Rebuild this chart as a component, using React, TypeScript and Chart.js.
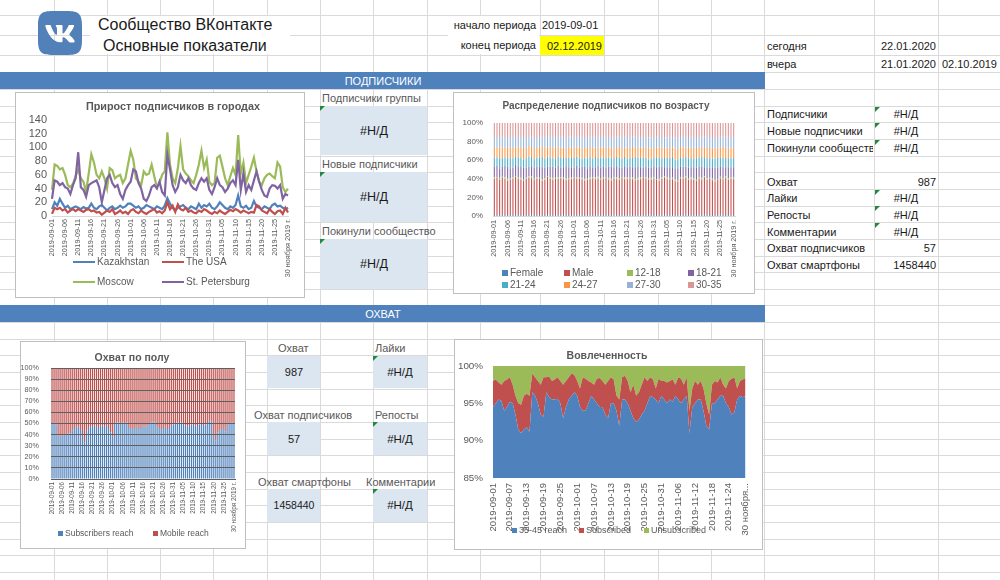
import React, { useEffect, useRef } from 'react';
import { Chart, registerables } from 'chart.js';

Chart.register(...registerables);

const FONT = "'Liberation Sans', Arial, sans-serif";
Chart.defaults.font.family = FONT;
Chart.defaults.color = '#595959';

// ---------- categories ----------
const DATES: string[] = [
  '2019-09-01','2019-09-02','2019-09-03','2019-09-04','2019-09-05','2019-09-06','2019-09-07','2019-09-08','2019-09-09','2019-09-10',
  '2019-09-11','2019-09-12','2019-09-13','2019-09-14','2019-09-15','2019-09-16','2019-09-17','2019-09-18','2019-09-19','2019-09-20',
  '2019-09-21','2019-09-22','2019-09-23','2019-09-24','2019-09-25','2019-09-26','2019-09-27','2019-09-28','2019-09-29','2019-09-30',
  '2019-10-01','2019-10-02','2019-10-03','2019-10-04','2019-10-05','2019-10-06','2019-10-07','2019-10-08','2019-10-09','2019-10-10',
  '2019-10-11','2019-10-12','2019-10-13','2019-10-14','2019-10-15','2019-10-16','2019-10-17','2019-10-18','2019-10-19','2019-10-20',
  '2019-10-21','2019-10-22','2019-10-23','2019-10-24','2019-10-25','2019-10-26','2019-10-27','2019-10-28','2019-10-29','2019-10-30',
  '2019-10-31','2019-11-01','2019-11-02','2019-11-03','2019-11-04','2019-11-05','2019-11-06','2019-11-07','2019-11-08','2019-11-09',
  '2019-11-10','2019-11-11','2019-11-12','2019-11-13','2019-11-14','2019-11-15','2019-11-16','2019-11-17','2019-11-18','2019-11-19',
  '2019-11-20','2019-11-21','2019-11-22','2019-11-23','2019-11-24','2019-11-25','2019-11-26','2019-11-27','2019-11-28','2019-11-29',
  '30 ноября 2019 г.',
];

// ---------- Прирост подписчиков в городах ----------
const KAZAKHSTAN = [
  10,20,15,25,18,12,15,10,12,14,
  12,10,13,11,12,18,12,10,14,16,
  12,8,12,14,10,12,15,12,14,18,
  18,15,12,14,10,12,16,14,12,10,
  14,12,10,15,26,18,12,8,12,14,
  16,12,10,14,12,10,18,12,16,14,
  18,12,10,14,20,16,12,10,14,12,
  16,30,14,12,15,10,12,22,14,12,
  10,14,12,10,16,18,14,15,12,10,
  12,
];
const THE_USA = [
  3,12,10,12,8,10,5,8,10,7,
  10,8,6,9,10,7,8,5,6,2,
  5,8,6,10,3,5,8,4,6,3,
  8,10,6,4,8,5,3,6,8,10,
  5,7,4,8,20,10,15,6,17,10,
  8,12,6,8,5,4,8,6,10,8,
  5,3,6,4,8,5,3,6,9,7,
  10,8,5,8,6,4,6,5,16,14,
  8,6,4,10,6,3,7,8,3,12,
  5,
];
const MOSCOW = [
  38,75,73,68,70,60,45,42,47,58,
  68,55,50,35,62,90,78,60,55,65,
  55,40,70,67,55,58,60,48,55,75,
  95,82,55,50,45,65,60,62,75,58,
  42,48,60,65,122,75,55,48,70,102,
  68,62,58,52,48,60,75,95,70,82,
  50,45,48,85,88,72,55,45,58,70,
  60,118,62,78,48,60,72,85,65,50,
  45,55,60,62,58,55,78,72,42,35,
  40,
];
const ST_PETERSBURG = [
  25,52,50,45,48,42,40,32,45,55,
  93,42,38,28,45,48,50,52,42,20,
  38,55,60,48,42,45,32,25,38,45,
  50,68,65,48,40,25,22,30,42,45,
  40,50,35,30,90,68,45,35,42,60,
  52,48,55,45,40,38,48,55,50,55,
  38,32,42,55,45,42,35,40,48,52,
  45,82,38,62,35,45,38,52,65,50,
  38,30,28,40,45,44,40,45,25,32,
  30,
];
const CITY_TICKS = [0, 20, 40, 60, 80, 100, 120, 140];

// ---------- Распределение подписчиков по возрасту ----------
const AGE_LABELS = ['Female', 'Male', '12-18', '18-21', '21-24', '24-27', '27-30', '30-35'];
const AGE_COLORS = ['#4f81bd', '#c0504d', '#9bbb59', '#8064a2', '#4bacc6', '#f79646', '#95b3d7', '#d99694'];
const FEMALE = [
  1,1,1,2,1,1,1,1,2,1, 1,1,1,1,2,1,1,1,1,1, 2,1,1,1,1,1,2,1,1,1, 1,1,2,1,1,1,1,1,1,2,
  1,1,1,1,1,2,1,1,1,1, 1,2,1,1,1,1,1,1,2,1, 1,1,1,1,2,1,1,1,1,1, 1,1,2,1,1,1,1,1,1,2,
  1,1,1,1,1,2,1,1,1,1, 1,
];
const MALE = [
  39,40,38,40,39,37,38,39,40,39, 38,37,39,40,39,38,39,39,37,38, 40,39,38,39,39,40,38,37,39,39,
  40,39,38,39,37,38,39,40,39,39, 38,39,40,38,37,39,39,38,40,39, 38,39,39,37,38,39,40,39,38,39,
  39,38,37,39,40,39,39,38,37,36, 39,39,40,38,39,38,37,39,39,40, 38,39,37,36,38,39,39,40,38,39,
  39,
];
const AGE_12_18 = [
  2,1,2,1,2,2,1,2,1,2, 2,1,1,2,2,1,2,1,2,2, 1,2,2,1,2,1,2,2,1,2, 1,2,1,2,2,1,2,1,2,2,
  1,2,1,2,2,1,2,2,1,2, 2,1,2,1,2,2,1,2,1,2, 2,1,2,2,1,2,1,2,2,1, 2,1,2,1,2,2,1,2,2,1,
  2,1,2,2,1,2,1,2,2,1, 2,
];
const AGE_18_21 = [
  11,12,10,11,12,13,11,10,12,11, 12,13,11,10,11,12,11,12,13,11, 10,11,12,11,12,10,11,13,12,11,
  10,12,11,12,13,11,12,10,11,12, 12,11,10,12,13,11,12,11,10,12, 11,12,11,13,12,11,10,11,12,11,
  11,12,13,11,10,11,12,11,12,13, 11,12,10,12,11,12,13,11,12,10, 12,11,12,13,12,11,12,10,12,11,
  11,
];
const AGE_21_24 = [
  10,9,11,10,9,10,11,10,9,10, 10,9,10,11,10,9,10,10,11,10, 11,10,9,10,10,11,10,9,10,10,
  11,10,10,9,10,11,10,10,11,9, 10,10,11,10,9,10,10,11,10,10, 9,10,10,11,10,10,11,10,9,10,
  10,11,10,9,10,10,10,11,10,10, 10,9,11,10,10,9,10,10,11,10, 10,10,9,10,11,10,10,10,9,10,
  10,
];
const AGE_24_27 = [
  11,10,12,11,10,11,12,11,10,11, 11,12,10,11,12,11,10,11,11,12, 10,11,11,12,10,11,11,10,12,11,
  11,10,12,11,10,11,11,12,10,11, 12,11,10,11,11,10,11,12,11,10, 11,11,12,10,11,11,10,11,12,11,
  10,11,11,12,10,11,11,10,12,11, 11,12,10,11,11,12,11,10,11,11, 12,11,11,10,11,11,12,11,11,10,
  11,
];
const AGE_27_30 = [
  11,12,11,12,11,10,11,12,11,12, 11,12,12,11,10,12,11,12,11,12, 11,12,12,11,11,12,11,12,11,12,
  11,12,11,12,12,11,11,12,11,12, 11,12,12,11,11,12,11,11,12,12, 11,12,11,12,11,11,12,11,12,12,
  11,12,11,11,12,11,12,11,12,12, 12,11,12,11,12,11,11,12,11,12, 12,12,11,12,11,12,11,12,12,11,
  12,
];
const AGE_30_35 = [
  15,15,15,15,16,16,15,15,15,14, 15,15,16,14,15,16,16,14,15,15, 15,14,15,15,15,15,16,15,15,15,
  15,14,15,16,15,16,15,15,16,15, 15,14,15,15,16,16,15,15,15,15, 16,15,15,14,15,16,15,15,16,16,
  16,15,15,15,16,16,15,15,16,16, 14,15,15,16,15,16,16,15,15,15, 14,15,16,16,16,15,15,15,16,16,
  15,
];

// ---------- Охват по полу ----------
const SUBSCRIBERS_REACH = [
  50,50,49,39,38,39,40,40,41,41, 44,46,47,47,45,40,33,44,46,47,
  47,48,47,46,48,48,47,48,46,42, 38,50,51,51,50,51,50,51,46,46,
  45,46,47,45,46,48,47,48,50,51, 52,51,47,46,45,46,47,45,46,48,
  49,50,51,50,51,50,48,47,48,49, 50,48,47,49,50,48,49,50,53,52,
  40,35,42,44,45,46,43,50,50,51, 50,
];
const MOBILE_REACH = [
  50,50,51,61,62,61,60,60,59,59, 56,54,53,53,55,60,67,56,54,53,
  53,52,53,54,52,52,53,52,54,58, 62,50,49,49,50,49,50,49,54,54,
  55,54,53,55,54,52,53,52,50,49, 48,49,53,54,55,54,53,55,54,52,
  51,50,49,50,49,50,52,53,52,51, 50,52,53,51,50,52,51,50,47,48,
  60,65,58,56,55,54,57,50,50,49, 50,
];

// ---------- Вовлеченность ----------
const REACH_35_45 = [
  94.5,95,95.5,95.3,94,94.5,95.2,95,93.5,91.5,
  91,91.5,91.8,91.2,96.5,96,95,93.5,93.2,96.5,
  95.8,95.5,95.5,95.6,95,93,94.5,95.5,96,96.5,
  96,94.5,94,94,95,96,95.5,95,94.5,94.5,
  93.5,93,95,95,94,92,95.5,95.5,95,94,
  93,92.5,92.8,93.5,94,95,96,95.8,95.5,95,
  96,95.5,95,95.5,95.2,96,95.5,95,95.5,96,
  91,94.5,95,95.5,95.5,94,92,91.5,95,95,
  95.5,96,96,95,94.5,93.5,93.8,95.5,96,95.8,
  96,
];
const SUBSCRIBED = [
  3.5,3.2,2.3,2.2,4,3.7,3.3,2.5,2.5,3.5,
  3.8,4.5,4.5,4.8,2.5,2.5,3,4,5.3,2,
  2.8,2.5,2.7,2.9,3,4.5,3.5,3,3,2.3,
  2,2.5,4.5,4.3,3,1.8,2,3.3,3.9,3.5,
  4,5,3.5,3.2,2,3.5,3,3.2,3,2.5,
  4.5,3.5,3.7,4,4.5,3,2.5,2.4,1.5,3.3,
  2,2.5,2.8,2.5,3,1.5,3,3.3,2,2.5,
  3,2.5,3,2,2.5,3,3,2,2.5,3,
  2.3,2.5,1.5,2,3.5,4.8,4.7,1.5,2,2.4,
  2.4,
];
const UNSUBSCRIBED = [
  2,1.8,2.2,2.5,2,1.8,1.5,2.5,4,5,
  5.2,4,3.7,4,1,1.5,2,2.5,1.5,1.5,
  1.4,2,1.8,1.5,2,2.5,2,1.5,1,1.2,
  2,3,1.5,1.7,2,2.2,2.5,1.7,1.6,2,
  2.5,2,1.5,1.8,4,4.5,1.5,1.3,2,3.5,
  2.5,4,3.5,2.5,1.5,2,1.5,1.8,3,1.7,
  2,2,2.2,2,1.8,2.5,1.5,1.7,2.5,1.5,
  6,3,2,2.5,2,3,5,6.5,2.5,2,
  2.2,1.5,2.5,3,2,1.7,1.5,3,2,1.8,
  1.6,
];

// ---------- helpers ----------
function toPercent(series: number[][]): number[][] {
  return series.map((s) =>
    s.map((v, i) => {
      const total = series.reduce((a, t) => a + (t[i] || 0), 0);
      return total ? (v / total) * 100 : 0;
    })
  );
}

const everyN = (n: number, maxLen = 100) =>
  function (this: any, value: any, index: number) {
    if (index % n !== 0) return null;
    const l: string = this.getLabelForValue(value);
    return l.length > maxLen ? l.slice(0, 9) + '...' : l;
  };

const pct = (v: any) => v + '%';

function ChartBox(props: { left: number; top: number; width: number; height: number; make: () => any }) {
  const ref = useRef<HTMLCanvasElement>(null);
  const { left, top, width, height, make } = props;
  useEffect(() => {
    const chart = new Chart(ref.current as HTMLCanvasElement, make());
    return () => chart.destroy();
  }, []);
  return (
    <div
      style={{
        position: 'absolute', left, top, width, height, boxSizing: 'border-box',
        border: '1px solid #bfbfbf', background: '#fff',
      }}
    >
      <canvas
        ref={ref}
        width={width - 2}
        height={height - 2}
        style={{ position: 'absolute', left: 0, top: 0, width: width - 2, height: height - 2 }}
      />
    </div>
  );
}

type TProps = {
  x: number; y: number; children: any; size?: number; align?: 'left' | 'right' | 'center';
  color?: string; bold?: boolean; clip?: number;
};
function T({ x, y, children, size = 11.5, align = 'left', color = '#1a1a1a', bold = false, clip }: TProps) {
  const pos: any =
    align === 'left' ? { left: x } : align === 'right' ? { right: 1000 - x, textAlign: 'right' } : { left: x - 200, width: 400, textAlign: 'center' };
  return (
    <div
      style={{
        position: 'absolute', top: y - 10, height: 20, lineHeight: '20px', fontSize: size,
        whiteSpace: 'nowrap', color, fontWeight: bold ? 'bold' : 'normal',
        ...(clip ? { width: clip, overflow: 'hidden' } : {}), ...pos,
      }}
    >
      {children}
    </div>
  );
}

const Tri = ({ x, y }: { x: number; y: number }) => (
  <div
    style={{
      position: 'absolute', left: x, top: y, width: 0, height: 0,
      borderTop: '5px solid #1f8a3b', borderRight: '5px solid transparent',
    }}
  />
);

const Box = ({ x, y, w, h }: { x: number; y: number; w: number; h: number }) => (
  <div style={{ position: 'absolute', left: x, top: y, width: w, height: h, background: '#dce6f1' }} />
);

const LegLine = ({ x, y, color, text, size = 10 }: { x: number; y: number; color: string; text: string; size?: number }) => (
  <>
    <div style={{ position: 'absolute', left: x, top: y - 1, width: 22, height: 2, background: color }} />
    <T x={x + 24} y={y} size={size} color="#595959">{text}</T>
  </>
);

const LegSq = ({ x, y, color, text, size = 10, sq = 6 }: { x: number; y: number; color: string; text: string; size?: number; sq?: number }) => (
  <>
    <div style={{ position: 'absolute', left: x, top: y - sq / 2, width: sq, height: sq, background: color }} />
    <T x={x + sq + 2} y={y} size={size} color="#595959">{text}</T>
  </>
);

// ---------- chart configs ----------
const cityChart = () => ({
  type: 'line',
  data: {
    labels: DATES,
    datasets: [
      { label: 'Kazakhstan', data: KAZAKHSTAN, borderColor: '#4f81bd', order: 3 },
      { label: 'The USA', data: THE_USA, borderColor: '#c0504d', order: 2 },
      { label: 'Moscow', data: MOSCOW, borderColor: '#9bbb59', order: 1 },
      { label: 'St. Petersburg', data: ST_PETERSBURG, borderColor: '#8064a2', order: 0 },
    ].map((d) => ({ ...d, borderWidth: 2.2, pointRadius: 0, tension: 0, fill: false })),
  },
  options: {
    responsive: false, animation: false,
    layout: { padding: { left: 0, right: 16, top: 27, bottom: 0 } },
    plugins: { legend: { display: false }, tooltip: { enabled: false }, title: { display: false } },
    scales: {
      x: {
        ticks: { autoSkip: false, maxRotation: 90, minRotation: 90, padding: 3, font: { size: 7.3 }, color: '#595959', callback: everyN(5) },
        grid: { display: false, drawTicks: false },
        border: { display: true, color: '#d9d9d9' },
        afterFit: (s: any) => { s.height = 81; },
      },
      y: {
        min: CITY_TICKS[0], max: CITY_TICKS[CITY_TICKS.length - 1],
        ticks: { stepSize: 20, autoSkip: false, padding: 5, font: { size: 11 }, color: '#595959' },
        grid: { display: false, drawTicks: false },
        border: { display: false },
        afterFit: (s: any) => { s.width = 36; },
      },
    },
  },
});

const ageChart = () => {
  const norm = toPercent([FEMALE, MALE, AGE_12_18, AGE_18_21, AGE_21_24, AGE_24_27, AGE_27_30, AGE_30_35]);
  return {
    type: 'bar',
    data: {
      labels: DATES,
      datasets: AGE_LABELS.map((l, i) => ({
        label: l, data: norm[i], backgroundColor: AGE_COLORS[i], barPercentage: 0.4, categoryPercentage: 1, borderWidth: 0,
      })),
    },
    options: {
      responsive: false, animation: false,
      layout: { padding: { left: 0, right: 19, top: 30, bottom: 0 } },
      plugins: { legend: { display: false }, tooltip: { enabled: false } },
      scales: {
        x: {
          stacked: true,
          ticks: { autoSkip: false, maxRotation: 90, minRotation: 90, padding: 4, font: { size: 7.2 }, color: '#595959', callback: everyN(5) },
          grid: { display: false, drawTicks: false },
          border: { display: true, color: '#d9d9d9' },
          afterFit: (s: any) => { s.height = 77; },
        },
        y: {
          stacked: true, min: 0, max: 100,
          ticks: { stepSize: 20, autoSkip: false, padding: 10, font: { size: 8 }, color: '#595959', callback: pct },
          grid: { display: false, drawTicks: false },
          border: { display: false },
          afterFit: (s: any) => { s.width = 39; },
        },
      },
    },
  };
};

const genderChart = () => {
  const norm = toPercent([SUBSCRIBERS_REACH, MOBILE_REACH]);
  return {
    type: 'bar',
    data: {
      labels: DATES,
      datasets: [
        { label: 'Subscribers reach', data: norm[0], backgroundColor: '#4f81bd' },
        { label: 'Mobile reach', data: norm[1], backgroundColor: '#c0504d' },
      ].map((d) => ({ ...d, barPercentage: 0.6, categoryPercentage: 1, borderWidth: 0 })),
    },
    options: {
      responsive: false, animation: false,
      layout: { padding: { left: 0, right: 10, top: 26, bottom: 0 } },
      plugins: { legend: { display: false }, tooltip: { enabled: false } },
      scales: {
        x: {
          stacked: true,
          ticks: { autoSkip: false, maxRotation: 90, minRotation: 90, padding: 3, font: { size: 6.3 }, color: '#595959', callback: everyN(5) },
          grid: { display: false, drawTicks: false },
          border: { display: true, color: '#595959' },
          afterFit: (s: any) => { s.height = 69; },
        },
        y: {
          stacked: true, min: 0, max: 100,
          ticks: { stepSize: 10, autoSkip: false, padding: 12, font: { size: 7.2 }, color: '#595959', callback: pct },
          grid: { display: true, drawTicks: false, color: '#5f5f5f', z: 1 },
          border: { display: false },
          afterFit: (s: any) => { s.width = 30; },
        },
      },
    },
  };
};

const engagementChart = () => {
  const norm = toPercent([REACH_35_45, SUBSCRIBED, UNSUBSCRIBED]);
  return {
    type: 'line',
    data: {
      labels: DATES,
      datasets: [
        { label: '35-45 reach', data: norm[0], backgroundColor: '#4f81bd', fill: 'start' },
        { label: 'Subscribed', data: norm[1], backgroundColor: '#c0504d', fill: '-1' },
        { label: 'Unsubscribed', data: norm[2], backgroundColor: '#9bbb59', fill: '-1' },
      ].map((d) => ({ ...d, borderColor: 'rgba(0,0,0,0)', borderWidth: 0, pointRadius: 0, tension: 0 })),
    },
    options: {
      responsive: false, animation: false,
      layout: { padding: { left: 0, right: 15, top: 26, bottom: 0 } },
      plugins: { legend: { display: false }, tooltip: { enabled: false } },
      scales: {
        x: {
          ticks: { autoSkip: false, maxRotation: 90, minRotation: 90, padding: 5, font: { size: 9.5 }, color: '#595959', callback: everyN(6, 12) },
          grid: { display: false, drawTicks: false },
          border: { display: false },
          afterFit: (s: any) => { s.height = 71; },
        },
        y: {
          stacked: true, min: 85, max: 100,
          ticks: { stepSize: 5, autoSkip: false, padding: 10, font: { size: 9.8 }, color: '#595959', callback: pct },
          grid: { display: false, drawTicks: false },
          border: { display: false },
          afterFit: (s: any) => { s.width = 38; },
        },
      },
    },
  };
};

// ---------- sheet grid ----------
const COL_LINES = [54, 107, 160, 213, 267, 320, 373, 427, 480, 540, 604, 658, 711, 764, 874, 938];
const TOP_ROW_LINES = [15, 35, 55, 72];
const ROW_START = 89;
const ROW_H = 16.65;

function Grid() {
  const rows: number[] = [...TOP_ROW_LINES];
  for (let y = ROW_START; y < 580; y += ROW_H) rows.push(Math.round(y));
  return (
    <>
      {COL_LINES.map((x) => (
        <div key={'c' + x} style={{ position: 'absolute', left: x, top: 0, width: 1, height: 580, background: '#dadada' }} />
      ))}
      {rows.map((y) => (
        <div key={'r' + y} style={{ position: 'absolute', left: 0, top: y, width: 1000, height: 1, background: '#dadada' }} />
      ))}
    </>
  );
}

const VK_PATH =
  'M15.684 0H8.316C1.592 0 0 1.592 0 8.316v7.368C0 22.408 1.592 24 8.316 24h7.368C22.408 24 24 22.408 24 15.684V8.316C24 1.592 22.391 0 15.684 0zm3.692 17.123h-1.744c-.66 0-.864-.525-2.050-1.727-1.033-1-1.49-1.135-1.744-1.135-.356 0-.458.102-.458.593v1.575c0 .424-.135.678-1.253.678-1.846 0-3.896-1.118-5.335-3.202C4.624 10.857 4.030 8.570 4.030 8.096c0-.254.102-.491.593-.491h1.744c.44 0 .61.203.78.677.863 2.49 2.303 4.675 2.896 4.675.22 0 .322-.102.322-.66V9.721c-.068-1.186-.695-1.287-.695-1.71 0-.204.17-.407.44-.407h2.744c.373 0 .508.203.508.643v3.473c0 .372.17.508.271.508.22 0 .407-.136.813-.542 1.254-1.406 2.151-3.574 2.151-3.574.119-.254.322-.491.763-.491h1.744c.525 0 .644.27.525.643-.22 1.017-2.354 4.031-2.354 4.031-.186.305-.254.44 0 .78.186.254.796.779 1.203 1.253.745.847 1.32 1.558 1.473 2.05.17.49-.085.744-.576.744z';

export default function App() {
  return (
    <div
      style={{
        position: 'absolute', left: 0, top: 0, width: 1000, height: 580, overflow: 'hidden',
        background: '#fff', fontFamily: FONT,
      }}
    >
      <Grid />

      {/* header */}
      <div style={{ position: 'absolute', left: 90, top: 16, width: 200, height: 38, background: '#fff' }} />
      <svg style={{ position: 'absolute', left: 38, top: 11 }} width={44} height={44} viewBox="0 0 24 24">
        <path d={VK_PATH} fill="#5181b8" fillRule="evenodd" />
      </svg>
      <T x={98} y={25} size={16}>Сообщество ВКонтакте</T>
      <T x={103} y={46} size={16}>Основные показатели</T>
      <div style={{ position: 'absolute', left: 448, top: 16, width: 91, height: 38, background: '#fff' }} />
      <T x={536} y={25} size={11} align="right">начало периода</T>
      <T x={542} y={25} size={11}>2019-09-01</T>
      <T x={536} y={45} size={11} align="right">конец периода</T>
      <div style={{ position: 'absolute', left: 540, top: 36, width: 64, height: 19, background: '#ffff00' }} />
      <T x={602} y={46} size={11} align="right">02.12.2019</T>

      <T x={767} y={46} size={11}>сегодня</T>
      <T x={936} y={46} size={11} align="right">22.01.2020</T>
      <T x={767} y={64} size={11}>вчера</T>
      <T x={936} y={64} size={11} align="right">21.01.2020</T>
      <T x={997} y={64} size={11} align="right">02.10.2019</T>

      {/* section bands */}
      <div style={{ position: 'absolute', left: 0, top: 72, width: 765, height: 17, background: '#4f81bd' }} />
      <T x={383} y={80.5} size={11} align="center" color="#ffffff">ПОДПИСЧИКИ</T>
      <div style={{ position: 'absolute', left: 0, top: 305, width: 765, height: 17, background: '#4f81bd' }} />
      <T x={383} y={313.5} size={11} align="center" color="#ffffff">ОХВАТ</T>

      {/* subscriber KPIs */}
      <T x={322} y={98} size={11} color="#595959">Подписчики группы</T>
      <Box x={320} y={106} w={107} h={49} />
      <Tri x={320} y={106} />
      <T x={374} y={131} size={12.5} align="center">#Н/Д</T>
      <T x={322} y={164} size={11} color="#595959">Новые подписчики</T>
      <Box x={320} y={172} w={107} h={50} />
      <Tri x={320} y={172} />
      <T x={374} y={197} size={12.5} align="center">#Н/Д</T>
      <T x={322} y={231} size={11} color="#595959">Покинули сообщество</T>
      <Box x={320} y={239} w={107} h={50} />
      <Tri x={320} y={239} />
      <T x={374} y={264} size={12.5} align="center">#Н/Д</T>

      {/* reach KPIs */}
      <T x={278} y={348} size={11} color="#595959">Охват</T>
      <Box x={267} y={356} w={53} h={32} />
      <T x={294} y={372} size={11} align="center">987</T>
      <T x={375} y={348} size={11} color="#595959">Лайки</T>
      <Box x={373} y={356} w={54} h={32} />
      <Tri x={373} y={356} />
      <T x={400} y={372} size={11.5} align="center">#Н/Д</T>

      <T x={254} y={415} size={11} color="#595959">Охват подписчиков</T>
      <Box x={267} y={422} w={53} h={33} />
      <T x={294} y={439} size={11} align="center">57</T>
      <T x={375} y={415} size={11} color="#595959">Репосты</T>
      <Box x={373} y={422} w={54} h={33} />
      <Tri x={373} y={422} />
      <T x={400} y={439} size={11.5} align="center">#Н/Д</T>

      <T x={258} y={482} size={11} color="#595959">Охват смартфоны</T>
      <Box x={267} y={489} w={53} h={33} />
      <T x={294} y={505} size={10.5} align="center">1458440</T>
      <T x={366} y={482} size={11} color="#595959">Комментарии</T>
      <Box x={373} y={489} w={54} h={33} />
      <Tri x={373} y={489} />
      <T x={400} y={505} size={11.5} align="center">#Н/Д</T>

      {/* right table */}
      <T x={767} y={114} size={11}>Подписчики</T>
      <Tri x={875} y={107} />
      <T x={906} y={114} size={11} align="center">#Н/Д</T>
      <T x={767} y={131} size={11}>Новые подписчики</T>
      <Tri x={875} y={123} />
      <T x={906} y={131} size={11} align="center">#Н/Д</T>
      <T x={767} y={148} size={11} clip={106}>Покинули сообщество</T>
      <Tri x={875} y={140} />
      <T x={906} y={148} size={11} align="center">#Н/Д</T>

      <T x={767} y={182} size={11}>Охват</T>
      <T x={936} y={182} size={11} align="right">987</T>
      <T x={767} y={198} size={11}>Лайки</T>
      <Tri x={875} y={190} />
      <T x={906} y={198} size={11} align="center">#Н/Д</T>
      <T x={767} y={215} size={11}>Репосты</T>
      <Tri x={875} y={206} />
      <T x={906} y={215} size={11} align="center">#Н/Д</T>
      <T x={767} y={232} size={11}>Комментарии</T>
      <Tri x={875} y={223} />
      <T x={906} y={232} size={11} align="center">#Н/Д</T>
      <T x={767} y={248} size={11}>Охват подписчиков</T>
      <T x={936} y={248} size={11} align="right">57</T>
      <T x={767} y={265} size={11}>Охват смартфоны</T>
      <T x={936} y={265} size={11} align="right">1458440</T>

      {/* charts */}
      <ChartBox left={15} top={92} width={290} height={206} make={cityChart} />
      <T x={173} y={106} size={10.8} bold align="center" color="#595959">Прирост подписчиков в городах</T>
      <LegLine x={73} y={262} color="#4f81bd" text="Kazakhstan" />
      <LegLine x={162} y={262} color="#c0504d" text="The USA" />
      <LegLine x={73} y={282} color="#9bbb59" text="Moscow" />
      <LegLine x={162} y={282} color="#8064a2" text="St. Petersburg" />

      <ChartBox left={453} top={92} width={302} height={202} make={ageChart} />
      <T x={606} y={106} size={10} bold align="center" color="#595959">Распределение подписчиков по возрасту</T>
      {AGE_LABELS.map((l, i) => (
        <LegSq key={l} x={[502, 564, 627, 688][i % 4]} y={i < 4 ? 273 : 285} color={AGE_COLORS[i]} text={l} size={10} />
      ))}

      <ChartBox left={20} top={341} width={226} height={208} make={genderChart} />
      <T x={132} y={357} size={10.5} bold align="center" color="#595959">Охват по полу</T>
      <LegSq x={58} y={533} color="#4f81bd" text="Subscribers reach" size={8.5} sq={5} />
      <LegSq x={153} y={533} color="#c0504d" text="Mobile reach" size={8.5} sq={5} />

      <ChartBox left={454} top={339} width={309} height={211} make={engagementChart} />
      <T x={607} y={355} size={10.5} bold align="center" color="#595959">Вовлеченность</T>
      <LegSq x={512} y={530} color="#4f81bd" text="35-45 reach" size={9} sq={5} />
      <LegSq x={579} y={530} color="#c0504d" text="Subscribed" size={9} sq={5} />
      <LegSq x={644} y={530} color="#9bbb59" text="Unsubscribed" size={9} sq={5} />
    </div>
  );
}
